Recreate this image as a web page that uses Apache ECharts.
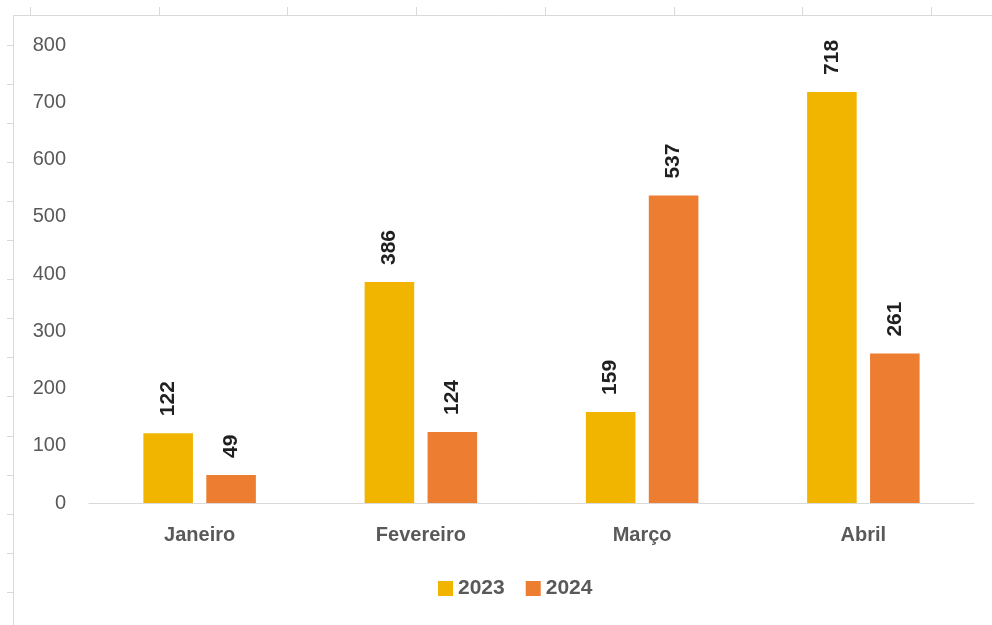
<!DOCTYPE html>
<html>
<head>
<meta charset="utf-8">
<script src="https://cdn.jsdelivr.net/npm/echarts@6/dist/echarts.min.js"></script>
<style>
  html, body { margin: 0; padding: 0; background: #ffffff; }
  #chart { width: 992px; height: 625px; }
</style>
</head>
<body>
<div id="chart"></div>
<script>
// Monthly totals, 2023 vs 2024
const months = ['Janeiro', 'Fevereiro', 'Março', 'Abril'];
const values2023 = [122, 386, 159, 718];
const values2024 = [49, 124, 537, 261];
const seriesNames = ['2023', '2024'];

const FONT = '"Liberation Sans", Arial, sans-serif';
const GRID_LINE = '#d9d9d9';

// Worksheet cell borders behind the chart area
const sheetLines = [];
sheetLines.push({ type: 'line', shape: { x1: 13, y1: 15.5, x2: 992, y2: 15.5 }, style: { stroke: GRID_LINE, lineWidth: 1 } });
sheetLines.push({ type: 'line', shape: { x1: 13.5, y1: 15, x2: 13.5, y2: 625 }, style: { stroke: GRID_LINE, lineWidth: 1 } });
for (let i = 0; i < 8; i++) {
  const x = Math.round(30 + i * 128.7) + 0.5;
  sheetLines.push({ type: 'line', shape: { x1: x, y1: 7, x2: x, y2: 15 }, style: { stroke: GRID_LINE, lineWidth: 1 } });
}
for (let i = 0; i < 15; i++) {
  const y = Math.round(45 + i * 39.05) + 0.5;
  sheetLines.push({ type: 'line', shape: { x1: 7, y1: y, x2: 13, y2: y }, style: { stroke: GRID_LINE, lineWidth: 1 } });
}

const labelStyle = {
  show: true,
  position: 'top',
  distance: 17,
  rotate: 90,
  align: 'left',
  verticalAlign: 'middle',
  fontFamily: FONT,
  fontWeight: 'bold',
  fontSize: 21,
  color: '#1f1f1f'
};

const chart = echarts.init(document.getElementById('chart'), null, { renderer: 'canvas' });
chart.setOption({
  backgroundColor: '#ffffff',
  animation: false,
  graphic: sheetLines,
  grid: { left: 89, right: 18, top: 45, bottom: 122, containLabel: false },
  legend: {
    bottom: 21,
    left: 433,
    itemWidth: 15,
    itemHeight: 15,
    itemGap: 21,
    icon: 'rect',
    textStyle: { fontFamily: FONT, fontWeight: 'bold', fontSize: 21, color: '#595959', padding: [0, 0, 0, 0] },
    data: seriesNames
  },
  xAxis: {
    type: 'category',
    data: months,
    axisLine: { show: true, lineStyle: { color: GRID_LINE, width: 1 } },
    axisTick: { show: false },
    axisLabel: { margin: 22, fontFamily: FONT, fontWeight: 'bold', fontSize: 20, color: '#595959' }
  },
  yAxis: {
    type: 'value',
    min: 0,
    max: 800,
    interval: 100,
    axisLine: { show: false },
    axisTick: { show: false },
    splitLine: { show: false },
    axisLabel: { margin: 23, fontFamily: FONT, fontSize: 20, color: '#595959' }
  },
  series: [
    {
      name: seriesNames[0],
      type: 'bar',
      data: values2023,
      barWidth: '22.4%',
      barGap: '27%',
      itemStyle: { color: '#F1B500' },
      label: labelStyle
    },
    {
      name: seriesNames[1],
      type: 'bar',
      data: values2024,
      barWidth: '22.4%',
      barGap: '27%',
      itemStyle: { color: '#ED7D31' },
      label: labelStyle
    }
  ]
});
</script>
</body>
</html>
